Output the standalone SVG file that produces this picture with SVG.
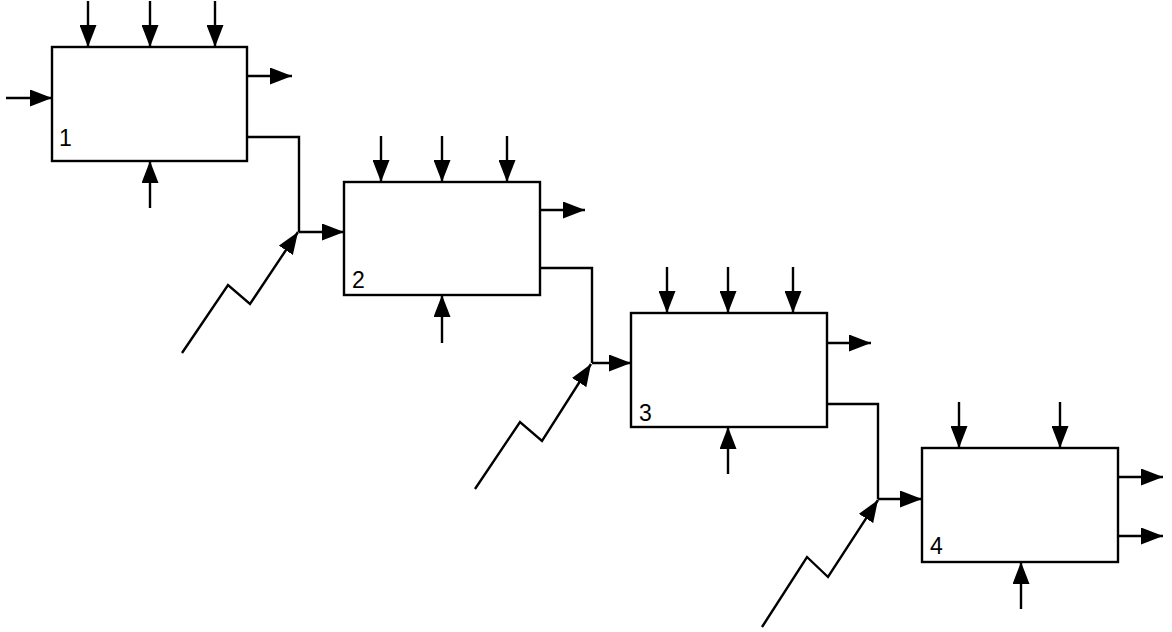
<svg xmlns="http://www.w3.org/2000/svg" width="1172" height="632" viewBox="0 0 1172 632">
<style>
.box{fill:#fff;stroke:#000;stroke-width:2.4}
.ln{fill:none;stroke:#000;stroke-width:2.4;stroke-linejoin:miter}
.ar{fill:none;stroke:#000;stroke-width:2.4;marker-end:url(#ah)}
.lbl{font-family:"Liberation Sans",Arial,sans-serif;font-size:23px;fill:#000}
</style>
<defs>
<marker id="ah" markerUnits="userSpaceOnUse" markerWidth="23" markerHeight="17" refX="22" refY="8.5" orient="auto" viewBox="0 0 23 17">
<path d="M0,0 L22,8.5 L0,17 z" fill="#000"/>
</marker>
</defs>
<rect width="1172" height="632" fill="#fff"/>
<g id="node1">
<rect class="box" x="52" y="47" width="195" height="114"/>
<text class="lbl" x="59" y="146">1</text>
</g>
<g id="node2">
<rect class="box" x="344" y="182" width="196" height="113"/>
<text class="lbl" x="352" y="288">2</text>
</g>
<g id="node3">
<rect class="box" x="631" y="313" width="196" height="114"/>
<text class="lbl" x="639" y="421">3</text>
</g>
<g id="node4">
<rect class="box" x="922" y="448" width="196" height="114"/>
<text class="lbl" x="930" y="554">4</text>
</g>
<g id="connectors">
<!-- box 1 -->
<line class="ar" x1="88" y1="1" x2="88" y2="47"/>
<line class="ar" x1="150" y1="1" x2="150" y2="47"/>
<line class="ar" x1="215" y1="1" x2="215" y2="47"/>
<line class="ar" x1="6" y1="98" x2="52" y2="98"/>
<line class="ar" x1="247" y1="76" x2="292" y2="76"/>
<line class="ar" x1="150" y1="208" x2="150" y2="161"/>
<!-- box 2 -->
<line class="ar" x1="381" y1="136" x2="381" y2="182"/>
<line class="ar" x1="442" y1="136" x2="442" y2="182"/>
<line class="ar" x1="507" y1="136" x2="507" y2="182"/>
<line class="ar" x1="540" y1="210" x2="585" y2="210"/>
<line class="ar" x1="442" y1="343" x2="442" y2="295"/>
<!-- box 3 -->
<line class="ar" x1="667" y1="267" x2="667" y2="313"/>
<line class="ar" x1="728" y1="267" x2="728" y2="313"/>
<line class="ar" x1="793" y1="267" x2="793" y2="313"/>
<line class="ar" x1="827" y1="343" x2="871" y2="343"/>
<line class="ar" x1="728" y1="474" x2="728" y2="427"/>
<!-- box 4 -->
<line class="ar" x1="959" y1="402" x2="959" y2="448"/>
<line class="ar" x1="1060" y1="402" x2="1060" y2="448"/>
<line class="ar" x1="1118" y1="477" x2="1163" y2="477"/>
<line class="ar" x1="1118" y1="536" x2="1163" y2="536"/>
<line class="ar" x1="1021" y1="609" x2="1021" y2="562"/>
<!-- links between boxes -->
<path class="ln" d="M247,137 H299 V232"/>
<line class="ar" x1="299" y1="232" x2="344" y2="232"/>
<path class="ln" d="M540,268 H592 V363"/>
<line class="ar" x1="592" y1="363" x2="631" y2="363"/>
<path class="ln" d="M827,404 H878 V499"/>
<line class="ar" x1="878" y1="499" x2="922" y2="499"/>
<!-- zigzag inputs -->
<path class="ar" d="M182,353 L228,285 L250,304 L298,232"/>
<path class="ar" d="M475,489 L520,422 L542,441 L591,364"/>
<path class="ar" d="M762,627 L807,557 L828,577 L878,500"/>
</g>
</svg>
